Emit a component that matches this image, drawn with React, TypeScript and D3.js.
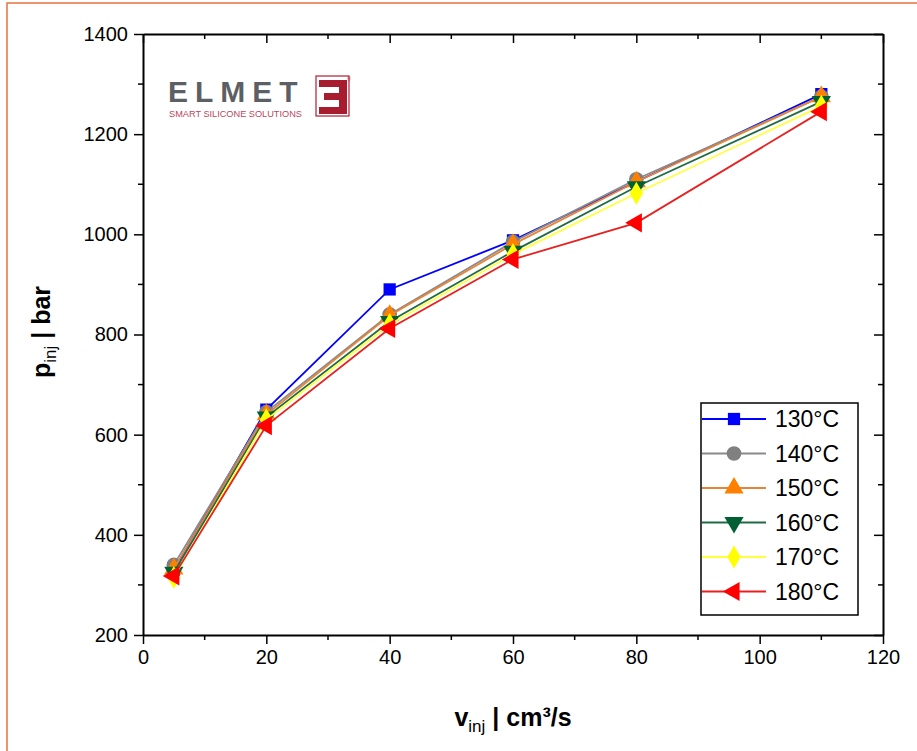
import React, { useEffect, useRef } from 'react';
import * as d3 from 'd3';

// injection speed (cm³/s)
const speeds = [5, 20, 40, 60, 80, 110];
const temps = ['130°C', '140°C', '150°C', '160°C', '170°C', '180°C'];
// injection pressure (bar), one array per temperature
const p130 = [330, 650, 890, 988, 1105, 1280];
const p140 = [340, 645, 840, 985, 1110, 1275];
const p150 = [332, 640, 838, 980, 1105, 1275];
const p160 = [325, 635, 826, 966, 1095, 1265];
const p170 = [315, 630, 820, 960, 1082, 1256];
const p180 = [318, 618, 812, 950, 1023, 1245];
const xTicks = [0, 20, 40, 60, 80, 100, 120];
const yTicks = [200, 400, 600, 800, 1000, 1200, 1400];

const colors = ['#0000ff', '#808080', '#ff8000', '#005f35', '#ffff00', '#ff0000'];
const lineColors = ['#0000ff', '#8a8a8a', '#e8843a', '#1f6b45', '#ffff40', '#e82020'];
const symbols = ['square', 'circle', 'up', 'down', 'diamond', 'left'];

const FONT = '"Liberation Sans", Arial, Helvetica, sans-serif';

function App() {
  const ref = useRef<SVGSVGElement>(null);

  useEffect(() => {
    const width = 917, height = 751;
    const left = 143, right = 883, top = 34, bottom = 635;
    const series = [p130, p140, p150, p160, p170, p180];

    const svg = d3.select(ref.current);
    svg.selectAll('*').remove();
    svg.attr('width', width).attr('height', height);

    svg.append('rect').attr('width', width).attr('height', height).attr('fill', '#fff');
    // partial frame from the screenshot
    svg.append('path').attr('d', `M7,${height} L7,3 L${width},3`)
      .attr('fill', 'none').attr('stroke', '#e4733f').attr('stroke-width', 1.5);

    const x = d3.scaleLinear().domain([0, 120]).range([left, right]);
    const y = d3.scaleLinear().domain([200, 1400]).range([bottom, top]);
    const fmt = d3.format('d');

    const drawAxis = (g, axis) => g.call(axis)
      .call(s => s.selectAll('.domain').attr('stroke', '#000').attr('stroke-width', 2))
      .call(s => s.selectAll('.tick line').attr('stroke', '#000').attr('stroke-width', 1.5))
      .call(s => s.selectAll('.tick text').attr('font-family', FONT).attr('font-size', 20).attr('fill', '#000'));

    const xMinor = d3.range(10, 120, 20);
    const yMinor = d3.range(300, 1400, 200);

    // bottom
    const gb = svg.append('g').attr('transform', `translate(0,${bottom})`);
    drawAxis(gb, d3.axisBottom(x).tickValues(xTicks).tickFormat(fmt).tickSizeInner(9).tickSizeOuter(0).tickPadding(6));
    gb.selectAll('.minor').data(xMinor).join('line').attr('class', 'minor')
      .attr('x1', d => x(d)).attr('x2', d => x(d)).attr('y1', 0).attr('y2', 5)
      .attr('stroke', '#000').attr('stroke-width', 1.5);
    // top (inward)
    const gt = svg.append('g').attr('transform', `translate(0,${top})`);
    drawAxis(gt, d3.axisTop(x).tickValues(xTicks).tickSizeInner(-9).tickSizeOuter(0).tickFormat(() => ''));
    gt.selectAll('.minor').data(xMinor).join('line').attr('class', 'minor')
      .attr('x1', d => x(d)).attr('x2', d => x(d)).attr('y1', 0).attr('y2', 5)
      .attr('stroke', '#000').attr('stroke-width', 1.5);
    // left
    const gl = svg.append('g').attr('transform', `translate(${left},0)`);
    drawAxis(gl, d3.axisLeft(y).tickValues(yTicks).tickFormat(fmt).tickSizeInner(9).tickSizeOuter(0).tickPadding(6));
    gl.selectAll('.minor').data(yMinor).join('line').attr('class', 'minor')
      .attr('x1', 0).attr('x2', -5).attr('y1', d => y(d)).attr('y2', d => y(d))
      .attr('stroke', '#000').attr('stroke-width', 1.5);
    // right (inward)
    const gr = svg.append('g').attr('transform', `translate(${right},0)`);
    drawAxis(gr, d3.axisRight(y).tickValues(yTicks).tickSizeInner(-9).tickSizeOuter(0).tickFormat(() => ''));
    gr.selectAll('.minor').data(yMinor).join('line').attr('class', 'minor')
      .attr('x1', 0).attr('x2', -5).attr('y1', d => y(d)).attr('y2', d => y(d))
      .attr('stroke', '#000').attr('stroke-width', 1.5);

    // logo
    const logo = svg.append('g').attr('transform', 'translate(168,0)');
    logo.append('text').attr('x', 0).attr('y', 102).text('ELMET')
      .attr('font-family', FONT).attr('font-weight', 'bold').attr('font-size', 30)
      .attr('letter-spacing', 7).attr('fill', '#5c5f63');
    logo.append('text').attr('x', 1).attr('y', 117).text('SMART SILICONE SOLUTIONS')
      .attr('font-family', FONT).attr('font-size', 9.2).attr('fill', '#b8485e');
    const e = logo.append('g').attr('transform', 'translate(148,76)');
    e.append('rect').attr('x', 0).attr('y', 0).attr('width', 33).attr('height', 40)
      .attr('fill', 'none').attr('stroke', '#b01e32').attr('stroke-width', 1.2);
    e.append('path').attr('fill', '#a81c30')
      .attr('d', 'M3,4 H31 V38 H3 V31 H23 V24 H8 V17 H23 V11 H3 Z');
    e.append('text').attr('x', 31).attr('y', 5).text('®')
      .attr('font-family', FONT).attr('font-size', 5).attr('fill', '#b01e32');

    // series
    const line = d3.line<number>().x((d, i) => x(speeds[i])).y(d => y(d));
    const symbolFor = (name, size) => {
      if (name === 'square') return d3.symbol(d3.symbolSquare, size)();
      if (name === 'circle') return d3.symbol(d3.symbolCircle, size)();
      if (name === 'diamond') return d3.symbol(d3.symbolDiamond, size)();
      return d3.symbol(d3.symbolTriangle, size)();
    };
    const rot = name => (name === 'down' ? 180 : name === 'left' ? -90 : 0);
    const sizes = { square: 150, circle: 170, up: 160, down: 160, diamond: 150, left: 160 };

    series.forEach((vals, k) => {
      const g = svg.append('g');
      g.append('path').attr('d', line(vals)).attr('fill', 'none')
        .attr('stroke', lineColors[k]).attr('stroke-width', 1.8);
      g.selectAll('path.m').data(vals).join('path').attr('class', 'm')
        .attr('d', symbolFor(symbols[k], sizes[symbols[k]]))
        .attr('transform', (d, i) => `translate(${x(speeds[i])},${y(d)}) rotate(${rot(symbols[k])})`)
        .attr('fill', colors[k]);
    });

    // legend
    const lg = svg.append('g').attr('transform', 'translate(701,403)');
    lg.append('rect').attr('width', 157).attr('height', 212).attr('fill', '#fff')
      .attr('stroke', '#000').attr('stroke-width', 1.5);
    temps.forEach((t, k) => {
      const cy = 16 + k * 34.5;
      lg.append('line').attr('x1', 1).attr('x2', 65).attr('y1', cy).attr('y2', cy)
        .attr('stroke', lineColors[k]).attr('stroke-width', 1.8);
      lg.append('path').attr('d', symbolFor(symbols[k], sizes[symbols[k]]))
        .attr('transform', `translate(33,${cy}) rotate(${rot(symbols[k])})`)
        .attr('fill', colors[k]);
      lg.append('text').attr('x', 74).attr('y', cy + 8).text(t)
        .attr('font-family', FONT).attr('font-size', 23).attr('fill', '#000');
    });

    // axis titles
    const xt = svg.append('text').attr('x', 513).attr('y', 726).attr('text-anchor', 'middle')
      .attr('font-family', FONT).attr('font-size', 25).attr('font-weight', 'bold').attr('fill', '#000');
    xt.append('tspan').text('v');
    xt.append('tspan').attr('font-size', 17).attr('font-weight', 'normal').attr('dy', 6).text('inj');
    xt.append('tspan').attr('dy', -6).text(' | cm³/s');

    const yt = svg.append('text').attr('transform', 'translate(50,332) rotate(-90)')
      .attr('text-anchor', 'middle')
      .attr('font-family', FONT).attr('font-size', 25).attr('font-weight', 'bold').attr('fill', '#000');
    yt.append('tspan').text('p');
    yt.append('tspan').attr('font-size', 17).attr('font-weight', 'normal').attr('dy', 6).text('inj');
    yt.append('tspan').attr('dy', -6).text(' | bar');
  }, []);

  return <svg ref={ref} style={{ position: 'absolute', left: 0, top: 0, display: 'block' }} />;
}

export default App;
